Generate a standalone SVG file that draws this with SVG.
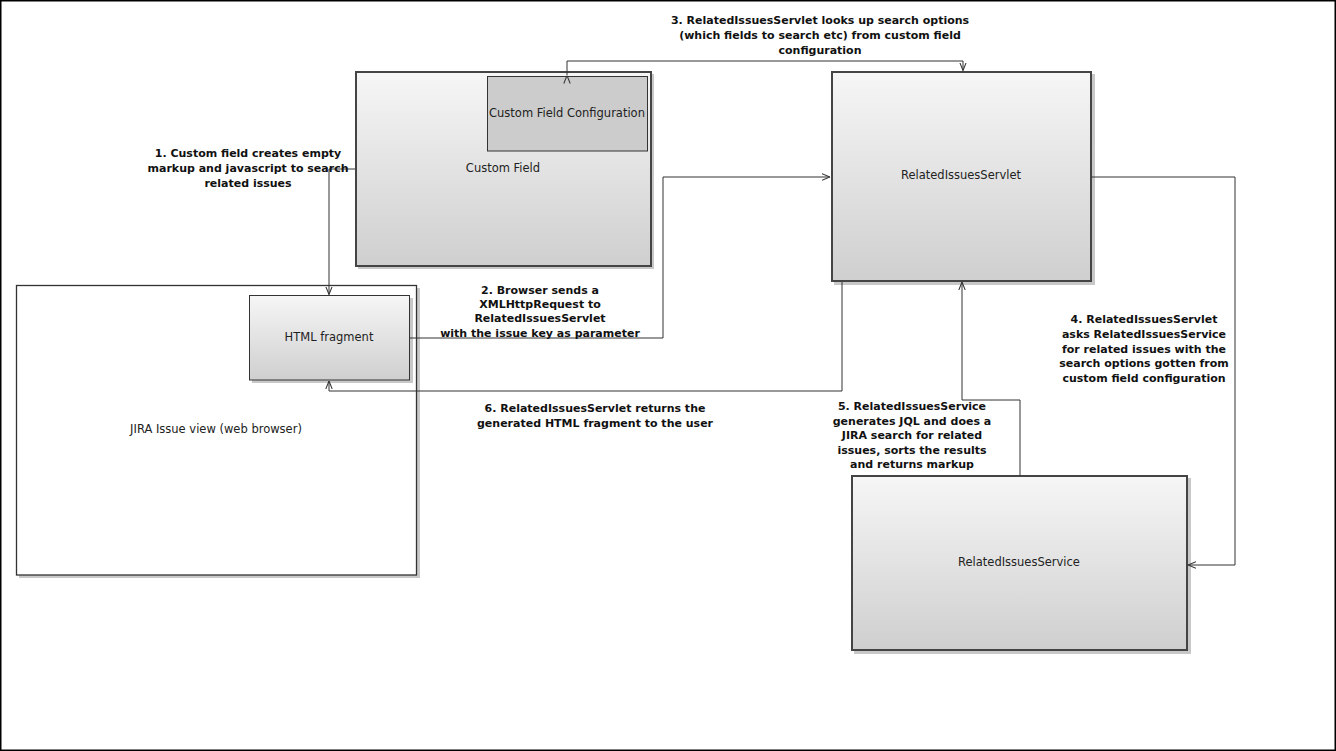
<svg xmlns="http://www.w3.org/2000/svg" width="1336" height="751" viewBox="0 0 1336 751">
<style>
.node{font-family:"DejaVu Sans",sans-serif;font-size:11.5px;fill:#222;text-anchor:middle}
.lbl{font-family:"DejaVu Sans",sans-serif;font-size:11px;font-weight:bold;fill:#111;text-anchor:middle}
.shadow{fill:#c8c8c8}
.edge{fill:none;stroke:#333;stroke-width:1}
</style>
<defs>
<linearGradient id="g" x1="0" y1="0" x2="0" y2="1">
<stop offset="0" stop-color="#f6f6f6"/>
<stop offset="1" stop-color="#cfcfcf"/>
</linearGradient>
<marker id="arr" viewBox="0 0 10 10" refX="10" refY="5" markerWidth="8" markerHeight="8" markerUnits="userSpaceOnUse" orient="auto">
<path d="M0,1 L10,5 L0,9" fill="none" stroke="#333" stroke-width="1.3"/>
</marker>
</defs>
<rect x="0" y="0" width="1336" height="751" fill="#fff"/>
<rect x="0.75" y="0.75" width="1334.5" height="749.5" fill="none" stroke="#000" stroke-width="1.5"/>

<g id="jira-issue-view">
<rect class="shadow" x="19" y="288" width="401" height="290"/>
<rect x="16.5" y="285.5" width="400" height="289.5" fill="#fff" stroke="#333" stroke-width="1.3"/>
<text class="node" x="216" y="433">JIRA Issue view (web browser)</text>
</g>

<g id="html-fragment">
<rect class="shadow" x="252" y="298" width="161" height="85"/>
<rect x="249.5" y="295.5" width="160" height="84.5" fill="url(#g)" stroke="#333" stroke-width="1"/>
<text class="node" x="329" y="341">HTML fragment</text>
</g>

<g id="custom-field">
<rect class="shadow" x="358" y="74" width="296" height="195"/>
<rect x="356" y="72" width="295" height="194" fill="url(#g)" stroke="#444" stroke-width="2"/>
<text class="node" x="503" y="172">Custom Field</text>
</g>

<g id="custom-field-configuration">
<rect x="487.5" y="76.5" width="160" height="74.5" fill="#cccccc" stroke="#333" stroke-width="1"/>
<text class="node" x="567" y="117">Custom Field Configuration</text>
</g>

<g id="related-issues-servlet">
<rect class="shadow" x="834" y="74" width="261" height="211"/>
<rect x="832" y="72" width="259" height="209" fill="url(#g)" stroke="#444" stroke-width="2"/>
<text class="node" x="961" y="179">RelatedIssuesServlet</text>
</g>

<g id="related-issues-service">
<rect class="shadow" x="854" y="478" width="337" height="176"/>
<rect x="852" y="476" width="335" height="174" fill="url(#g)" stroke="#444" stroke-width="2"/>
<text class="node" x="1019" y="566">RelatedIssuesService</text>
</g>

<g id="connectors">
<path class="edge" d="M355,169 H329 V294.5" marker-end="url(#arr)"/>
<path class="edge" d="M410,338 H663 V177 H830" marker-end="url(#arr)"/>
<path class="edge" d="M567,75.5 V61 H963 V70.5" marker-start="url(#arr)" marker-end="url(#arr)"/>
<path class="edge" d="M1091,177 H1235 V565 H1188" marker-end="url(#arr)"/>
<path class="edge" d="M1020,476 V400 H962 V282" marker-end="url(#arr)"/>
<path class="edge" d="M842,282 V391 H329 V381" marker-end="url(#arr)"/>
</g>

<g id="labels">
<text class="lbl" x="248" y="157">1. Custom field creates empty</text>
<text class="lbl" x="248" y="172">markup and javascript to search</text>
<text class="lbl" x="248" y="187">related issues</text>

<text class="lbl" x="540" y="294">2. Browser sends a</text>
<text class="lbl" x="540" y="308">XMLHttpRequest to</text>
<text class="lbl" x="540" y="322">RelatedIssuesServlet</text>
<text class="lbl" x="540" y="337">with the issue key as parameter</text>

<text class="lbl" x="820" y="24">3. RelatedIssuesServlet looks up search options</text>
<text class="lbl" x="820" y="39">(which fields to search etc) from custom field</text>
<text class="lbl" x="820" y="54">configuration</text>

<text class="lbl" x="1144" y="323">4. RelatedIssuesServlet</text>
<text class="lbl" x="1144" y="338">asks RelatedIssuesService</text>
<text class="lbl" x="1144" y="353">for related issues with the</text>
<text class="lbl" x="1144" y="367">search options gotten from</text>
<text class="lbl" x="1144" y="382">custom field configuration</text>

<text class="lbl" x="912" y="410">5. RelatedIssuesService</text>
<text class="lbl" x="912" y="425">generates JQL and does a</text>
<text class="lbl" x="912" y="439">JIRA search for related</text>
<text class="lbl" x="912" y="454">issues, sorts the results</text>
<text class="lbl" x="912" y="468">and returns markup</text>

<text class="lbl" x="595" y="412">6. RelatedIssuesServlet returns the</text>
<text class="lbl" x="595" y="427">generated HTML fragment to the user</text>
</g>
</svg>
